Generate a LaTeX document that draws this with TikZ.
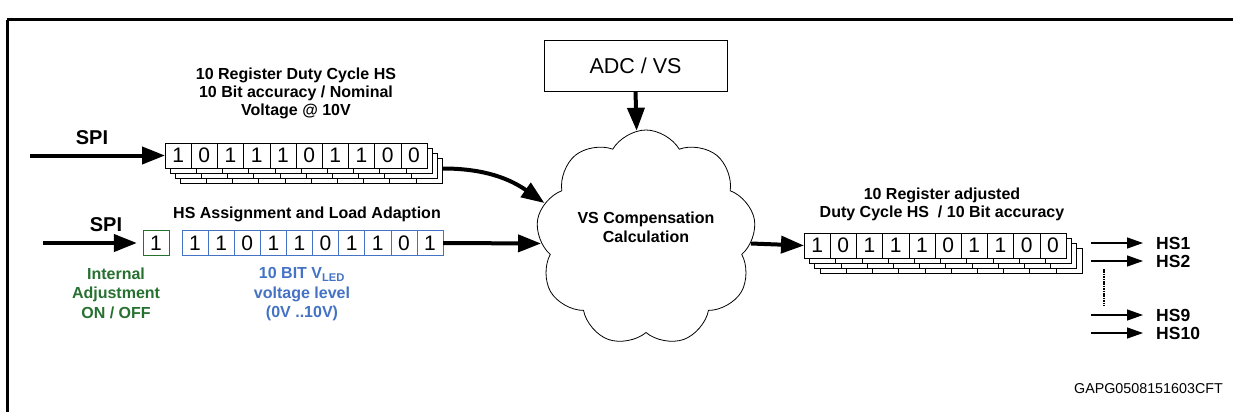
\documentclass[tikz,border=0pt]{standalone}
\usepackage{fontspec}
\setmainfont{Liberation Sans}
\usetikzlibrary{shapes,arrows.meta,positioning,calc}

\definecolor{adjgreen}{RGB}{38,112,48}
\definecolor{ledblue}{RGB}{68,114,196}

\tikzset{
  bit/.style={draw, fill=white, minimum width=26.2pt, minimum height=25pt,
    inner sep=0pt, outer sep=0pt, font=\fontsize{21}{21}\selectfont},
  lbl/.style={font=\fontsize{16}{18}\selectfont\bfseries, align=center, inner sep=0pt},
  spi/.style={font=\fontsize{20}{20}\selectfont\bfseries, inner sep=0pt},
  hsout/.style={font=\fontsize{17.5}{17.5}\selectfont\bfseries, inner sep=0pt},
  bigarrow/.style={line width=4pt, -{Triangle[length=23pt,width=17pt]}},
  thinarrow/.style={line width=1.3pt, -{Triangle[length=16pt,width=11pt]}},
}

\begin{document}
\begin{tikzpicture}[x=1pt, y=1pt]
\useasboundingbox (0,0) rectangle (1233,-412);

% frame
\draw[line width=3pt] (6.5,-20) -- (1233,-20);
\draw[line width=2.5pt] (7.5,-20) -- (7.5,-412);

% ADC box and cloud
\node[draw, line width=0.8pt, minimum width=183pt, minimum height=51pt,
  font=\fontsize{21.5}{21.5}\selectfont] (adc) at (635.5,-65.5) {ADC / VS};
\node[cloud, draw, line width=0.8pt, cloud puffs=9, cloud puff arc=120,
  cloud ignores aspect, minimum width=220pt, minimum height=216pt, inner sep=0pt,
  text depth=22pt, font=\fontsize{16}{19}\selectfont\bfseries, align=center]
  (vscomp) at (646,-238) {VS Compensation\\Calculation};

% duty cycle register (SPI input)
\foreach \k in {3,2,1} {
  \draw[fill=white] (165+5*\k,-143-5*\k) rectangle ++(262,-25);
  \foreach \j in {1,...,9}
    \draw (165+5*\k+26.2*\j,-143-5*\k) -- ++(0,-25);
}
\foreach \b [count=\i] in {1,0,1,1,1,0,1,1,0,0}
  \node[bit] (dc\i) at (151.9+26.2*\i,-155.5) {\b};
\node[lbl, anchor=north] (dclbl) at (296,-67.5)
  {10 Register Duty Cycle HS\\10 Bit accuracy / Nominal\\Voltage @ 10V};
\node[spi, anchor=base] (spi1) at (92,-144) {SPI};
\coordinate (in1) at (30,-155.5);
\draw[bigarrow] (in1) -- (dc1.west);

% HS assignment / load adaption
\node[lbl, anchor=base] (hslbl) at (307,-218) {HS Assignment and Load Adaption};
\node[spi, anchor=base] (spi2) at (106,-231) {SPI};
\node[bit, draw=adjgreen] (adj) at (156,-243) {1};
\foreach \b [count=\i] in {1,1,0,1,1,0,1,1,0,1}
  \node[bit, draw=ledblue] (vl\i) at (168.95+26.1*\i,-243) {\b};
\coordinate (in2) at (43,-243);
\draw[bigarrow, shorten >=6pt] (in2) -- (adj.west);
\node[lbl, anchor=north, text=adjgreen, font=\fontsize{16}{19.5}\selectfont\bfseries]
  (adjlbl) at (116,-267.5) {Internal\\Adjustment\\ON / OFF};
\node[lbl, anchor=north, text=ledblue, font=\fontsize{16}{19.5}\selectfont\bfseries]
  (vllbl) at (302,-267.5) {10 BIT V\textsubscript{LED}\\voltage level\\(0V ..10V)};

% adjusted register
\foreach \k in {3,2,1} {
  \draw[fill=white] (804+5.3*\k,-233-5*\k) rectangle ++(262,-25);
  \foreach \j in {1,...,9}
    \draw (804+5.3*\k+26.2*\j,-233-5*\k) -- ++(0,-25);
}
\foreach \b [count=\i] in {1,0,1,1,1,0,1,1,0,0}
  \node[bit] (ad\i) at (790.9+26.2*\i,-245.5) {\b};
\node[lbl, anchor=north] (adlbl) at (942,-187.5)
  {10 Register adjusted\\Duty Cycle HS~ / 10 Bit accuracy};

% connectors
\draw[bigarrow] (adc.south) -- (vscomp.95);
\draw[bigarrow] ($(dc10.east)+(16,-13)$) to[out=0, in=145] (vscomp.161);
\draw[bigarrow] (vl10.east) -- (vscomp.183);
\draw[bigarrow] (vscomp.-3) -- (ad1.west);

% outputs
\foreach \n/\y in {1/243,2/261,9/315,10/333} {
  \coordinate (hsin\n) at (1091,-\y);
  \coordinate (hsend\n) at (1143,-\y);
  \node[hsout, right=13pt of hsend\n] (hs\n) {HS\n};
  \draw[thinarrow] (hsin\n) -- (hsend\n);
}
\draw[line width=2.5pt, dash pattern=on 1.6pt off 0.8pt]
  ($(hsin2)+(13,-8)$) -- ($(hsin9)+(13,9)$);

\node[anchor=base east, inner sep=0pt, font=\fontsize{14.3}{14.3}\selectfont]
  (code) at (1223,-393) {GAPG0508151603CFT};
\end{tikzpicture}
\end{document}
